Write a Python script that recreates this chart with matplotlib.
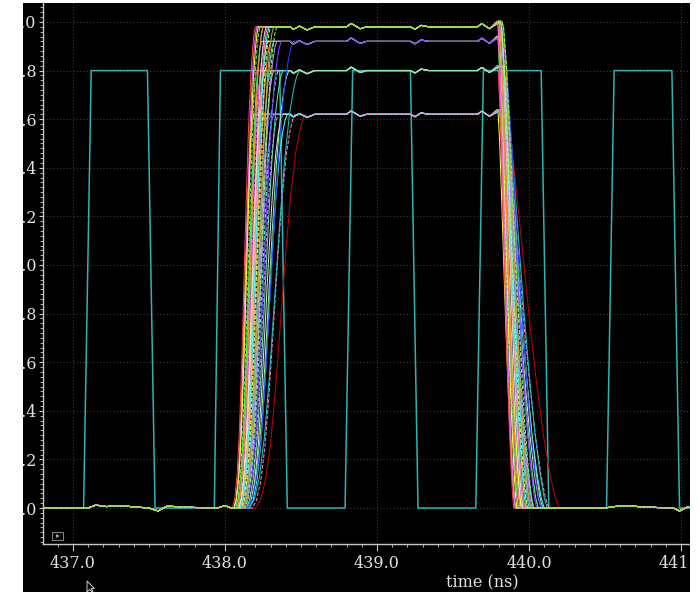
import matplotlib
matplotlib.use("Agg")
import matplotlib.pyplot as plt
from matplotlib.patches import Rectangle, Polygon
from matplotlib.ticker import MultipleLocator, FormatStrFormatter

# clock (teal square wave)
clock_t = [436.80, 437.07, 437.12, 437.49, 437.54, 437.93, 437.97, 438.36, 438.41,
           438.79, 438.84, 439.22, 439.27, 439.65, 439.70, 440.08, 440.13, 440.51,
           440.56, 440.94, 440.99, 441.10]
clock_v = [0, 0, 1.8, 1.8, 0, 0, 1.8, 1.8, 0, 0, 1.8, 1.8, 0, 0, 1.8, 1.8, 0, 0,
           1.8, 1.8, 0, 0]

# edge shapes (fraction of edge time, fraction of level)
rise_f = [0, 0.10, 0.20, 0.30, 0.40, 0.50, 0.60, 0.70, 0.80, 0.88, 0.94, 1.0]
rise_s = [0, 0.02, 0.07, 0.16, 0.30, 0.47, 0.64, 0.79, 0.90, 0.955, 0.985, 1.0]
fall_f = [0, 0.06, 0.14, 0.24, 0.36, 0.48, 0.60, 0.72, 0.84, 0.93, 1.0]
fall_s = [1.012, 1.0, 0.93, 0.80, 0.63, 0.46, 0.31, 0.18, 0.08, 0.025, 0]

# small coupling ripples (V) on the flat parts
base_t = [436.80, 437.10, 437.15, 437.22, 437.30, 437.50, 437.56, 437.62, 437.75, 437.95, 438.00, 438.04]
base_v = [0, 0, 0.012, 0.006, 0.010, 0, -0.012, 0.008, 0.003, 0, 0.010, 0]
ripple_t = [438.43, 438.45, 438.49, 438.54, 438.59, 438.80, 438.83, 438.89, 438.93,
            439.22, 439.25, 439.29, 439.34, 439.66, 439.69, 439.74]
ripple_v = [0, -0.011, 0.003, -0.013, 0, 0, 0.014, -0.008, 0, 0, -0.010, 0.006, 0,
            0, 0.013, -0.008]
tail_t = [440.22, 440.50, 440.56, 440.65, 440.75, 440.95, 440.99, 441.04, 441.10]
tail_v = [0, 0, 0.006, 0.010, 0.004, 0, -0.012, 0.004, 0.004]

# per trace: plateau level, rise start, rise time, fall start, fall time
level = [1.62]*12 + [1.80]*10 + [1.92]*8 + [1.98]*12
t_rise = [438.20, 438.06, 438.08, 438.09, 438.10, 438.11, 438.12, 438.13, 438.14, 438.15, 438.16, 438.18,
          438.16, 438.06, 438.08, 438.09, 438.10, 438.11, 438.12, 438.13, 438.14, 438.15,
          438.15, 438.07, 438.08, 438.09, 438.10, 438.11, 438.12, 438.13,
          438.05, 438.06, 438.06, 438.07, 438.08, 438.08, 438.09, 438.10, 438.10, 438.11, 438.12, 438.13]
dur_rise = [0.33, 0.13, 0.14, 0.15, 0.16, 0.17, 0.18, 0.19, 0.21, 0.23, 0.25, 0.28,
            0.33, 0.15, 0.16, 0.17, 0.18, 0.19, 0.20, 0.22, 0.24, 0.27,
            0.30, 0.17, 0.18, 0.19, 0.20, 0.21, 0.22, 0.24,
            0.15, 0.15, 0.16, 0.16, 0.17, 0.17, 0.18, 0.18, 0.19, 0.19, 0.20, 0.21]
t_fall = [439.83, 439.79, 439.80, 439.80, 439.80, 439.81, 439.81, 439.81, 439.82, 439.82, 439.82, 439.82,
          439.82, 439.79, 439.80, 439.80, 439.80, 439.81, 439.81, 439.81, 439.82, 439.82,
          439.82, 439.79, 439.80, 439.80, 439.80, 439.81, 439.81, 439.82,
          439.79, 439.79, 439.80, 439.80, 439.80, 439.80, 439.81, 439.81, 439.81, 439.81, 439.82, 439.82]
dur_fall = [0.37, 0.12, 0.13, 0.15, 0.16, 0.18, 0.20, 0.22, 0.24, 0.26, 0.28, 0.31,
            0.30, 0.12, 0.13, 0.15, 0.16, 0.18, 0.20, 0.22, 0.24, 0.27,
            0.26, 0.12, 0.14, 0.15, 0.17, 0.19, 0.21, 0.23,
            0.11, 0.12, 0.12, 0.13, 0.14, 0.14, 0.15, 0.16, 0.17, 0.18, 0.19, 0.21]
colors = ["#c00000", "#ffff40", "#40ff40", "#ff40ff", "#a0ff40", "#ff9020", "#2040ff", "#8080ff", "#c080ff", "#e0e0e0", "#40ffff", "#ff80c0",
          "#20c0c0", "#ff4040", "#ff60ff", "#ffff40", "#4060ff", "#ff9020", "#c0c0c0", "#40ffff", "#60e0a0", "#90f0a0",
          "#2040ff", "#40ff40", "#ff40ff", "#ffff40", "#ff8040", "#40e0e0", "#c080ff", "#8040ff",
          "#ff4040", "#ff60ff", "#ffff40", "#40ff40", "#8080ff", "#ff9020", "#e0e0e0", "#ff80c0", "#40ffff", "#c0ff40", "#c8a040", "#80ff40"]
styles = ["-", "-", "--", "-", "-", "--", "-", "-", "--", "-", "-", "--",
          "-", "-", "-", "-", "-", "--", "-", "--", "-", "-",
          "-", "-", "--", "-", "-", "-", "-", "-",
          "-", "-", "-", "--", "-", "-", "-", "-", "-", "--", "-", "--"]


def trace(i):
    lv = level[i]
    t = [x for x in base_t if x < t_rise[i]]
    v = base_v[:len(t)]
    t += [t_rise[i] + f * dur_rise[i] for f in rise_f]
    v += [lv * s for s in rise_s]
    t_up = t_rise[i] + dur_rise[i]
    for rt, rv in zip(ripple_t, ripple_v):
        if t_up < rt < t_fall[i]:
            t.append(rt)
            v.append(lv + rv)
    t += [t_fall[i] + f * dur_fall[i] for f in fall_f]
    v += [lv * s for s in fall_s]
    t_dn = t_fall[i] + dur_fall[i]
    for tt, tv in zip(tail_t, tail_v):
        if tt > t_dn:
            t.append(tt)
            v.append(tv)
    return t, v


W, H = 700, 592
fig = plt.figure(figsize=(W / 100, H / 100), dpi=100, facecolor="white")
fig.add_artist(Rectangle((23 / W, 0), (690 - 23) / W, 589 / H, transform=fig.transFigure,
                         facecolor="black", edgecolor="none", zorder=-1))

ax = fig.add_axes([43 / W, (H - 544) / H, (690 - 43) / W, (544 - 3) / H])
ax.set_facecolor("black")

ax.plot(clock_t, clock_v, color="#2ab4b4", lw=1.1, zorder=2)
for i in range(len(level)):
    t, v = trace(i)
    ax.plot(t, v, color=colors[i], lw=0.75, ls=styles[i], zorder=3)

ax.set_xlim(436.803, 441.059)
ax.set_ylim(-0.148, 2.078)

ax.xaxis.set_major_locator(MultipleLocator(1.0))
ax.xaxis.set_minor_locator(MultipleLocator(0.1))
ax.yaxis.set_major_locator(MultipleLocator(0.2))
ax.yaxis.set_minor_locator(MultipleLocator(0.02))
ax.xaxis.set_major_formatter(FormatStrFormatter("%.1f"))
ax.yaxis.set_major_formatter(FormatStrFormatter("%.1f"))

ax.grid(True, which="major", color="#3c3c3c", ls=(0, (1, 2)), lw=0.8, zorder=1)

for s in ["top", "right"]:
    ax.spines[s].set_visible(False)
for s in ["left", "bottom"]:
    ax.spines[s].set_color("#c8c8c8")
    ax.spines[s].set_linewidth(1.0)

ax.tick_params(which="both", colors="#c8c8c8", labelcolor="#e0e0e0",
               labelsize=11.5, labelfontfamily="DejaVu Serif")
ax.tick_params(axis="x", which="major", direction="out", length=5, pad=3)
ax.tick_params(axis="x", which="minor", direction="out", length=2.5)
ax.tick_params(axis="y", which="major", direction="out", length=3, pad=1.5)
ax.tick_params(axis="y", which="minor", direction="out", length=2)

fig.text(482 / W, 1 - 583 / H, "time (ns)", ha="center", va="center",
         color="#e0e0e0", fontsize=11.5, family="DejaVu Serif")

# small play icon in the corner of the plot
fig.add_artist(Rectangle((52 / W, 1 - 540 / H), 11 / W, 8 / H, transform=fig.transFigure,
                         facecolor="none", edgecolor="#808080", lw=0.8, zorder=6))
fig.add_artist(Polygon([(56 / W, 1 - 534 / H), (56 / W, 1 - 538 / H), (60 / W, 1 - 536 / H)],
                       closed=True, transform=fig.transFigure, facecolor="#a0a0a0",
                       edgecolor="none", zorder=6))
# mouse pointer
fig.add_artist(Polygon([(87 / W, 1 - 581 / H), (87 / W, 1 - 592 / H), (89.5 / W, 1 - 589.5 / H),
                        (92 / W, 1 - 592 / H), (93 / W, 1 - 591 / H), (91 / W, 1 - 588.5 / H),
                        (94.5 / W, 1 - 588.5 / H)], closed=True, transform=fig.transFigure,
                       facecolor="black", edgecolor="#d0d0d0", lw=0.7, zorder=6))

# white strips that crop the screenshot edges (and the y label digits)
fig.add_artist(Rectangle((0, 0), 23 / W, 1, transform=fig.transFigure,
                         facecolor="white", edgecolor="none", zorder=5))
fig.add_artist(Rectangle((690 / W, 0), 10 / W, 1, transform=fig.transFigure,
                         facecolor="white", edgecolor="none", zorder=5))

fig.savefig("out.png", dpi=100, facecolor="white")
